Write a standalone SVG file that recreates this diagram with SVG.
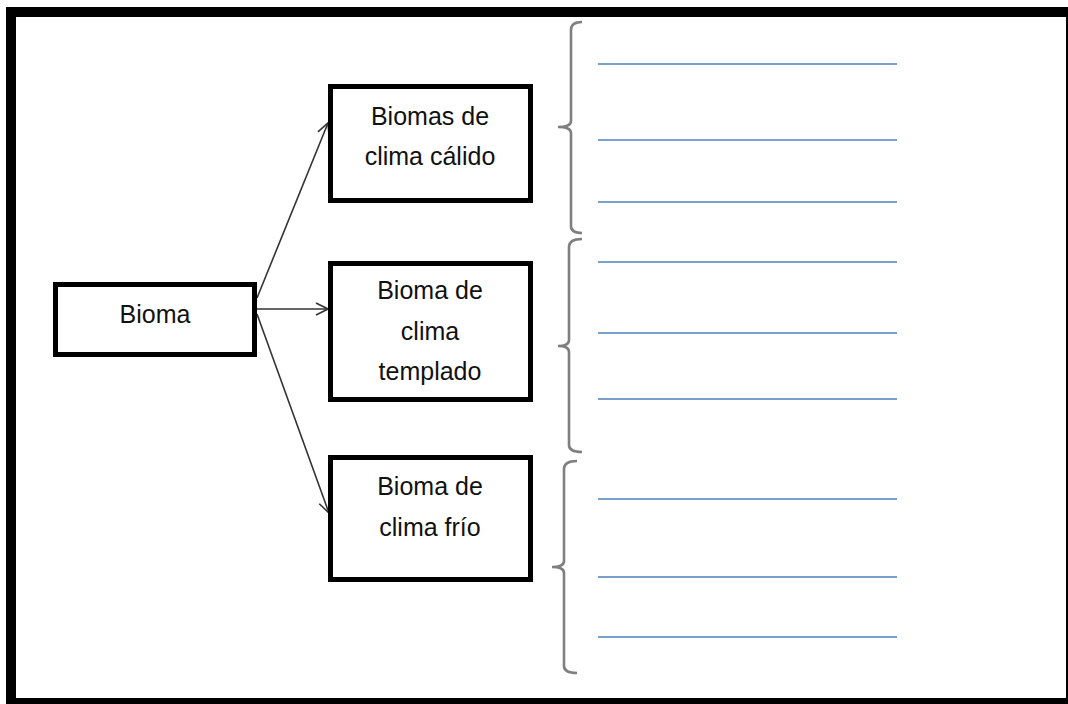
<svg xmlns="http://www.w3.org/2000/svg" width="1068" height="704" viewBox="0 0 1068 704">
<defs>
<style>
.box{fill:#fff;stroke:#000;stroke-width:5}
.t{font-family:"Liberation Sans",Arial,sans-serif;font-size:25px;fill:#111;text-anchor:middle}
.conn{stroke:#333;stroke-width:1.6;fill:none;marker-end:url(#ah)}
.brace{stroke:#7f7f7f;stroke-width:2.6;fill:none}
.ln{stroke:#4f81bd;stroke-width:1.6}
</style>
<marker id="ah" viewBox="0 0 14 14" refX="13" refY="7" markerWidth="14" markerHeight="14" markerUnits="userSpaceOnUse" orient="auto">
<path d="M1,1 L13,7 L1,13" fill="none" stroke="#333" stroke-width="1.6"/>
</marker>
</defs>
<rect x="0" y="0" width="1068" height="704" fill="#fff"/>
<rect id="frame" x="11" y="12" width="1060" height="691" fill="none" stroke="#000" stroke-width="10"/>
<g id="connectors">
<line class="conn" x1="257" y1="298" x2="328" y2="123"/>
<line class="conn" x1="257" y1="309" x2="328" y2="309"/>
<line class="conn" x1="257" y1="314" x2="329" y2="513"/>
</g>
<g id="bioma">
<rect class="box" x="55.5" y="284.5" width="199" height="70"/>
<text class="t" x="155" y="323">Bioma</text>
</g>
<g id="calido">
<rect class="box" x="330.5" y="86.5" width="200" height="114"/>
<text class="t" x="430" y="125">Biomas de</text>
<text class="t" x="430" y="165">clima cálido</text>
</g>
<g id="templado">
<rect class="box" x="330.5" y="263.5" width="200" height="136"/>
<text class="t" x="430" y="299">Bioma de</text>
<text class="t" x="430" y="340">clima</text>
<text class="t" x="430" y="380">templado</text>
</g>
<g id="frio">
<rect class="box" x="330.5" y="457.5" width="200" height="122"/>
<text class="t" x="430" y="495">Bioma de</text>
<text class="t" x="430" y="536">clima frío</text>
</g>
<g id="braces">
<path class="brace" d="M582,22 Q571,22 571,30 L571,121 Q571,127 558,127 Q571,127 571,133 L571,226 Q571,233 582,233"/>
<path class="brace" d="M582,239 Q569,239 569,247 L569,340 Q569,346 558,346 Q569,346 569,352 L569,445 Q569,452 582,452"/>
<path class="brace" d="M577,461 Q564,461 564,469 L564,561 Q564,567 552,567 Q564,567 564,573 L564,666 Q564,673 577,673"/>
</g>
<g id="lines">
<line class="ln" x1="598" y1="64" x2="897" y2="64"/>
<line class="ln" x1="598" y1="140" x2="897" y2="140"/>
<line class="ln" x1="598" y1="202" x2="897" y2="202"/>
<line class="ln" x1="598" y1="262" x2="897" y2="262"/>
<line class="ln" x1="598" y1="333" x2="897" y2="333"/>
<line class="ln" x1="598" y1="399" x2="897" y2="399"/>
<line class="ln" x1="598" y1="499" x2="897" y2="499"/>
<line class="ln" x1="598" y1="577" x2="897" y2="577"/>
<line class="ln" x1="598" y1="637" x2="897" y2="637"/>
</g>
</svg>
